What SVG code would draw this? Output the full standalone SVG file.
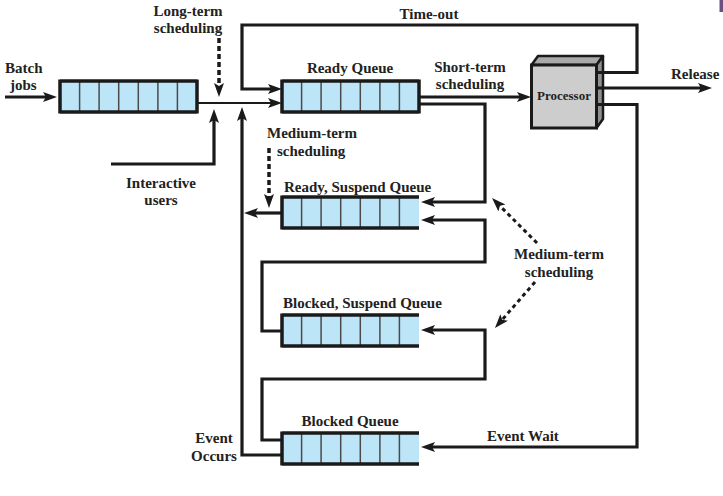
<svg xmlns="http://www.w3.org/2000/svg" width="723" height="496" viewBox="0 0 723 496">
<style>
text{font-family:"Liberation Serif","Times New Roman",serif;font-weight:bold;font-size:15px;fill:#222}
.c{text-anchor:middle}
.qf{fill:#bde5f8;stroke:none}
.qb{stroke:#1a1a1a;stroke-width:3.5;fill:none}
.qd{stroke:#4a4a4a;stroke-width:1.5}
.ln{fill:none;stroke:#1a1a1a;stroke-width:3.2;stroke-linejoin:miter}
.thin{stroke-width:2}
.arr{marker-end:url(#ah)}
.dash{fill:none;stroke:#1a1a1a;stroke-width:3.5;stroke-dasharray:5 3}
.dash2{fill:none;stroke:#1a1a1a;stroke-width:3;stroke-dasharray:4 3.5}
</style>
<defs>
<marker id="ah" markerUnits="userSpaceOnUse" markerWidth="16" markerHeight="12" refX="6" refY="5" orient="auto">
<path d="M0,0 L14,5 L0,10 L3,5 Z" fill="#1a1a1a"/>
</marker>
<g id="cells">
<rect class="qf" x="0" y="0" width="137" height="31"/>
<path class="qd" d="M19.6,0V31M39.1,0V31M58.7,0V31M78.3,0V31M97.9,0V31M117.4,0V31"/>
</g>
</defs>
<rect x="719.5" y="0" width="3.5" height="12" fill="#6b4f7e"/>

<g id="batch-queue">
<use href="#cells" x="60" y="81"/>
<path class="qb" d="M60,81H197M60,112H197M60,79.5V113.5M197,79.5V113.5"/>
</g>
<g id="ready-queue">
<use href="#cells" x="282" y="81"/>
<path class="qb" d="M282,81H419M282,112H419M282,79.5V113.5M419,79.5V113.5"/>
</g>
<g id="ready-suspend-queue">
<use href="#cells" x="282" y="197"/>
<path class="qb" d="M282,197H419M282,228H419M282,195.5V229.5"/>
</g>
<g id="blocked-suspend-queue">
<use href="#cells" x="282" y="315"/>
<path class="qb" d="M282,315H419M282,346H419M282,313.5V347.5"/>
</g>
<g id="blocked-queue">
<use href="#cells" x="282" y="433"/>
<path class="qb" d="M282,433H419M282,464H419M282,431.5V465.5"/>
</g>
<g id="processor">
<polygon points="531.5,65 538,56 603,56 596.5,65" fill="#a9a9a9" stroke="#1a1a1a" stroke-width="2.5" stroke-linejoin="round"/>
<polygon points="596.5,65 603,56 603,119 596.5,128" fill="#8f8f8f" stroke="#1a1a1a" stroke-width="2.5" stroke-linejoin="round"/>
<rect x="531.5" y="65" width="65" height="63" fill="#cdcdcd" stroke="#1a1a1a" stroke-width="3"/>
<text class="c" x="564" y="100" style="font-size:13px">Processor</text>
</g>

<g id="connectors">
<path class="ln arr" d="M5,97H49"/>
<path class="ln thin arr" d="M197,103H274"/>
<path class="dash arr" d="M219,38V89"/>
<path class="ln arr" d="M111,164H214V117"/>
<path class="ln arr" d="M597,72.5H637V25H242V89H274"/>
<path class="ln arr" d="M282,455H242V115"/>
<path class="ln arr" d="M282,213H252"/>
<path class="ln arr" d="M419,97H523"/>
<path class="ln arr" d="M419,104H485V202H429"/>
<path class="ln arr" d="M282,331H262V262H485V220H429"/>
<path class="ln arr" d="M282,440H262V379H485V330H429"/>
<path class="ln arr" d="M597,88H704"/>
<path class="ln arr" d="M597,104.5H637V447H429"/>
<path class="dash arr" d="M269,148V200"/>
<path class="dash2 arr" d="M537,243L497.7,203.7"/>
<path class="dash2 arr" d="M535,282L500.2,322"/>
</g>

<g id="labels">
<text class="c" x="188" y="16">Long-term</text>
<text class="c" x="188" y="33">scheduling</text>
<text x="5" y="73">Batch</text>
<text x="10" y="90">jobs</text>
<text class="c" x="161" y="188">Interactive</text>
<text class="c" x="161" y="205">users</text>
<text class="c" x="429" y="19">Time-out</text>
<text class="c" x="350" y="73">Ready Queue</text>
<text class="c" x="470" y="72">Short-term</text>
<text class="c" x="470" y="89">scheduling</text>
<text x="671" y="79">Release</text>
<text x="267" y="138">Medium-term</text>
<text x="277" y="156">scheduling</text>
<text x="284" y="192">Ready, Suspend Queue</text>
<text class="c" x="559" y="259">Medium-term</text>
<text class="c" x="559" y="277">scheduling</text>
<text x="283" y="308">Blocked, Suspend Queue</text>
<text class="c" x="350" y="426">Blocked Queue</text>
<text class="c" x="214" y="443">Event</text>
<text class="c" x="214" y="461">Occurs</text>
<text x="487" y="441">Event Wait</text>
</g>
</svg>
